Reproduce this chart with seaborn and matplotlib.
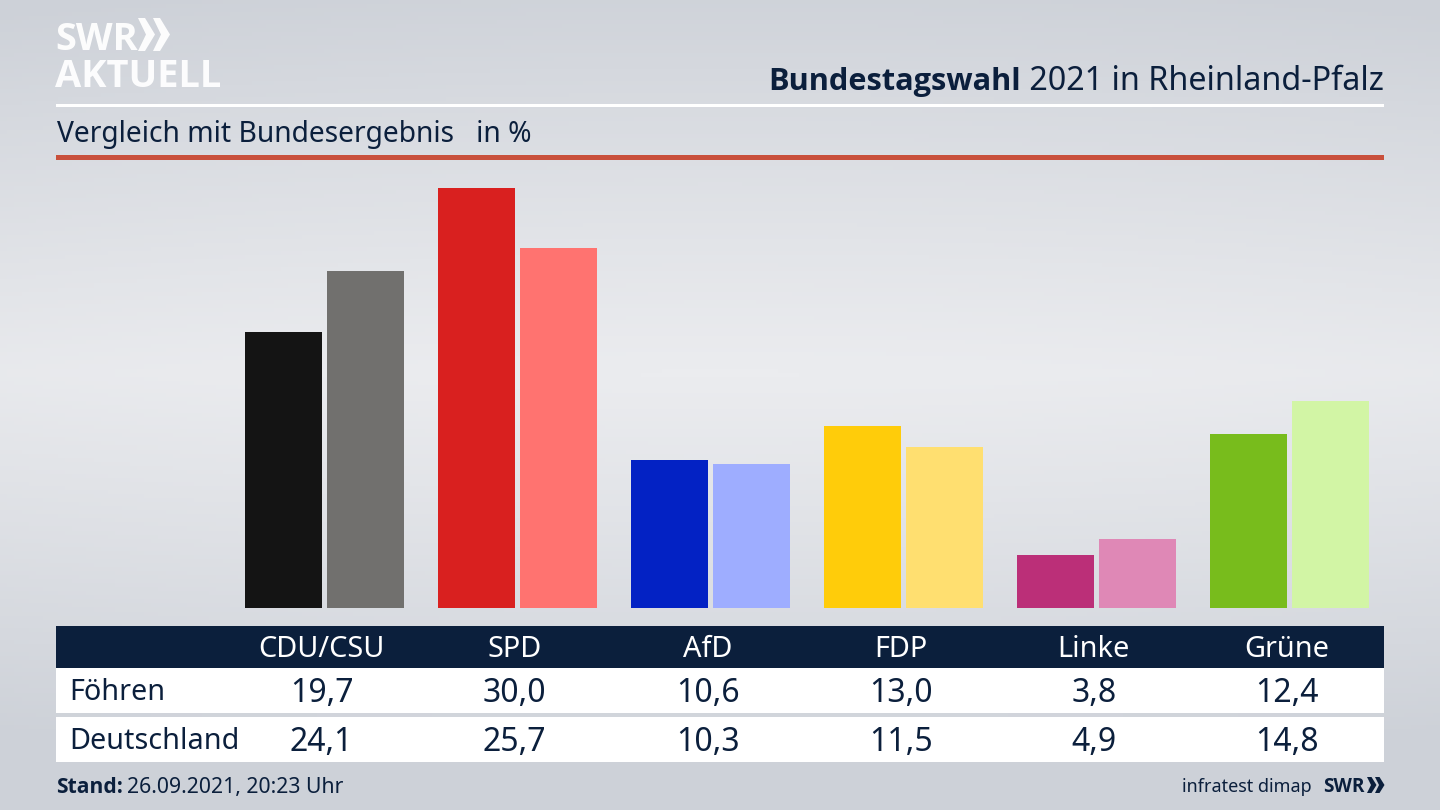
"""
Bundestagswahl 2021: Foehren vs. Bundesergebnis, grouped bars with a table below.
"""

import numpy as np
import pandas as pd
import matplotlib
matplotlib.use("Agg")
import matplotlib.pyplot as plt
from matplotlib import font_manager
from matplotlib.patches import Polygon, Rectangle
from matplotlib.transforms import blended_transform_factory
import seaborn as sns

PARTIES = ["CDU/CSU", "SPD", "AfD", "FDP", "Linke", "Grüne"]
REGIONS = ["Föhren", "Deutschland"]
FOEHREN = [19.7, 30.0, 10.6, 13.0, 3.8, 12.4]
DEUTSCHLAND = [24.1, 25.7, 10.3, 11.5, 4.9, 14.8]

COLORS_FOEHREN = ["#141414", "#d9201f", "#0322c4", "#ffcc0a", "#bb2f78", "#78bc1c"]
COLORS_DEUTSCHLAND = ["#71706e", "#ff7370", "#9eadff", "#ffdf70", "#df88b6", "#d2f5a5"]

NAVY = "#0b1f3c"
W, H = 1440, 810

sns.set_theme(style="white")
plt.rcParams["font.family"] = ["Noto Sans", "DejaVu Sans"]

# Not every family ships a bold cut, take the first one that does
bold_families = {f.name for f in font_manager.fontManager.ttflist if f.weight in (700, "bold")}
BOLD = next(n for n in ["Noto Sans", "Open Sans", "Lato", "Roboto", "Inter", "DejaVu Sans"]
            if n in bold_families)


def px(size):
    # font size given in pixels of the 100 dpi figure
    return size * 0.72


fig = plt.figure(figsize=(W / 100, H / 100), dpi=100)

# Background: soft vertical gradient, slightly darker towards the sides
bg = fig.add_axes([0, 0, 1, 1], zorder=0)
yy, xx = np.mgrid[0:1:200j, -1:1:200j]
shade = np.clip(np.abs(yy - 0.46) / 0.5, 0, 1) ** 1.1 + 0.10 * xx ** 2
bg.imshow(shade, cmap=matplotlib.colors.LinearSegmentedColormap.from_list(
    "bg", ["#ebecef", "#cdd1d8"]), vmin=0, vmax=1, aspect="auto",
    extent=[0, W, H, 0])
bg.set_xlim(0, W)
bg.set_ylim(H, 0)
bg.axis("off")

# Bars
df = pd.DataFrame({
    "party": PARTIES * 2,
    "region": [REGIONS[0]] * 6 + [REGIONS[1]] * 6,
    "value": FOEHREN + DEUTSCHLAND,
})
ax = fig.add_axes([56 / W, (H - 608) / H, 1328 / W, 448 / H], zorder=2)
sns.barplot(data=df, x="party", y="value", hue="region", order=PARTIES,
            hue_order=REGIONS, width=0.85, gap=0.06, saturation=1,
            legend=False, ax=ax, errorbar=None, linewidth=0)
for bar, c in zip(ax.containers[0], COLORS_FOEHREN):
    bar.set_facecolor(c)
for bar, c in zip(ax.containers[1], COLORS_DEUTSCHLAND):
    bar.set_facecolor(c)
ax.set_xlim((56 - 324.7) / 193, (1384 - 324.7) / 193)
ax.set_ylim(0, 448 / 14.0)
ax.axis("off")

# Header, rules and table in pixel coordinates
ov = fig.add_axes([0, 0, 1, 1], zorder=3)
ov.set_xlim(0, W)
ov.set_ylim(H, 0)
ov.axis("off")
ov.patch.set_alpha(0)

ov.add_patch(Rectangle((56, 104), 1328, 3, color="white", lw=0))
ov.add_patch(Rectangle((56, 155), 1328, 5, color="#c9503c", lw=0))

ov.text(55, 50, "SWR", color="white", fontsize=px(38), family=BOLD, fontweight="bold",
        va="baseline", alpha=0.95)
ov.text(55, 87, "AKTUELL", color="white", fontsize=px(38), family=BOLD, fontweight="bold",
        va="baseline", alpha=0.95)
for dx in (0, 15):
    ov.add_patch(Polygon([[138 + dx, 18], [145 + dx, 18], [155 + dx, 34.5],
                          [145 + dx, 51], [138 + dx, 51], [146 + dx, 34.5]],
                         color="white", lw=0, alpha=0.95))

title = ov.text(1384, 90, " 2021 in Rheinland-Pfalz", color=NAVY, fontsize=px(32.3),
                ha="right", va="baseline")
fig.canvas.draw()
title_left = ov.transData.inverted().transform(title.get_window_extent())[0, 0]
ov.text(title_left, 90, "Bundestagswahl", color=NAVY, fontsize=px(30.8),
        family=BOLD, fontweight="bold", ha="right", va="baseline")
ov.text(57, 142, "Vergleich mit Bundesergebnis   in %", color=NAVY,
        fontsize=px(28.2), va="baseline")

ov.add_patch(Rectangle((56, 626), 1328, 42, color=NAVY, lw=0))
ov.add_patch(Rectangle((56, 668), 1328, 45, color="white", lw=0))
ov.add_patch(Rectangle((56, 717), 1328, 45, color="white", lw=0))

# Table columns follow the bar groups, text sits a little left of the group centre
col = blended_transform_factory(ax.transData, ov.transData)
shift = 3 / 193
for i, party in enumerate(PARTIES):
    ov.text(i - shift, 657, party, color="white", fontsize=px(28.9), ha="center",
            va="baseline", transform=col)
    ov.text(i - shift, 702, f"{FOEHREN[i]:.1f}".replace(".", ","), color=NAVY,
            fontsize=px(32), ha="center", va="baseline", transform=col)
    ov.text(i - shift, 751, f"{DEUTSCHLAND[i]:.1f}".replace(".", ","), color=NAVY,
            fontsize=px(32), ha="center", va="baseline", transform=col)
ov.text(69, 700, REGIONS[0], color=NAVY, fontsize=px(28.8), va="baseline")
ov.text(69, 749, REGIONS[1], color=NAVY, fontsize=px(28.8), va="baseline")

# Footer
stand = ov.text(56, 793, "Stand:", color=NAVY, fontsize=px(21), family=BOLD,
                fontweight="bold", va="baseline")
fig.canvas.draw()
stand_px = ov.transData.inverted().transform(stand.get_window_extent())[1, 0]
ov.text(stand_px + 4, 793, "26.09.2021, 20:23 Uhr", color=NAVY, fontsize=px(21.2),
        va="baseline")
ov.text(1312, 792, "infratest dimap", color=NAVY, fontsize=px(18), ha="right",
        va="baseline")
ov.text(1323, 792, "SWR", color=NAVY, fontsize=px(19), family=BOLD, fontweight="bold",
        va="baseline")
for dx in (0, 8):
    ov.add_patch(Polygon([[1367 + dx, 777], [1371.5 + dx, 777], [1376.5 + dx, 785],
                          [1371.5 + dx, 793], [1367 + dx, 793], [1371 + dx, 785]],
                         color=NAVY, lw=0))

fig.savefig("out.png", dpi=100)
